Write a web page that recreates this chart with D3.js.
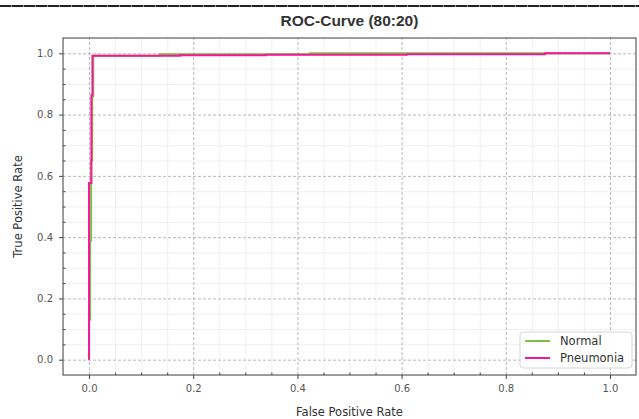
<!DOCTYPE html>
<html>
<head>
<meta charset="utf-8">
<script src="https://cdn.jsdelivr.net/npm/d3@7"></script>
<style>
body{margin:0;background:#fff;}
svg{display:block;font-family:"DejaVu Sans",sans-serif;}
</style>
</head>
<body>
<div id="chart"></div>
<script>
// ROC points
var normalFpr = [0, 0, 0.002, 0.002, 0.004, 0.004, 0.006, 0.006, 0.008, 0.008, 0.136, 0.136, 0.424, 0.424, 1.0];
var normalTpr = [0, 0.13, 0.13, 0.39, 0.39, 0.65, 0.65, 0.86, 0.86, 0.992, 0.992, 0.997, 0.997, 1.0, 1.0];

var pneuFpr = [0, 0, 0.0045, 0.0045, 0.0065, 0.0065, 0.175, 0.175, 0.34, 0.34, 0.61, 0.61, 0.875, 0.875, 1.0];
var pneuTpr = [0, 0.577, 0.577, 0.863, 0.863, 0.992, 0.992, 0.994, 0.994, 0.9955, 0.9955, 0.997, 0.997, 1.0, 1.0];

var seriesNames = ["Normal", "Pneumonia"];
var seriesColors = ["#7cc142", "#f5179b"];
var majorTicks = [0, 0.2, 0.4, 0.6, 0.8, 1.0];
var minorTicks = [-0.05, 0.05, 0.1, 0.15, 0.25, 0.3, 0.35, 0.45, 0.5, 0.55, 0.65, 0.7, 0.75, 0.85, 0.9, 0.95, 1.05];

var W = 639, H = 419;
var L = 63, R = 636, T = 38, B = 375;

var svg = d3.select("#chart").append("svg").attr("width", W).attr("height", H);

// notebook separator line at top
svg.append("line").attr("x1", 0).attr("x2", W).attr("y1", 6).attr("y2", 6)
	.attr("stroke", "#999").attr("stroke-width", 2);
svg.append("line").attr("x1", 0).attr("x2", W).attr("y1", 6).attr("y2", 6)
	.attr("stroke", "#222").attr("stroke-width", 2).attr("stroke-dasharray", "11,1");

var x = d3.scaleLinear().domain([-0.05, 1.05]).range([L, R]);
var y = d3.scaleLinear().domain([-0.05, 1.05]).range([B, T]);

var fmt = d3.format(".1f");

//minor grid
svg.append("g").attr("transform", "translate(0," + B + ")")
	.call(d3.axisBottom(x).tickValues(minorTicks).tickSize(-(B - T)).tickFormat(""))
	.call(function(g){ g.select(".domain").remove(); g.selectAll("line").attr("stroke", "#ebebeb").attr("stroke-width", 0.8); });
svg.append("g").attr("transform", "translate(" + L + ",0)")
	.call(d3.axisLeft(y).tickValues(minorTicks).tickSize(-(R - L)).tickFormat(""))
	.call(function(g){ g.select(".domain").remove(); g.selectAll("line").attr("stroke", "#ebebeb").attr("stroke-width", 0.8); });

//major grid
svg.append("g").attr("transform", "translate(0," + B + ")")
	.call(d3.axisBottom(x).tickValues(majorTicks).tickSize(-(B - T)).tickFormat(""))
	.call(function(g){ g.select(".domain").remove(); g.selectAll("line").attr("stroke", "#b0b0b0").attr("stroke-width", 0.9).attr("stroke-dasharray", "3,2"); });
svg.append("g").attr("transform", "translate(" + L + ",0)")
	.call(d3.axisLeft(y).tickValues(majorTicks).tickSize(-(R - L)).tickFormat(""))
	.call(function(g){ g.select(".domain").remove(); g.selectAll("line").attr("stroke", "#b0b0b0").attr("stroke-width", 0.9).attr("stroke-dasharray", "3,2"); });

//curves
var line = d3.line().x(function(d){ return x(d[0]); }).y(function(d){ return y(d[1]); });
var allFpr = [normalFpr, pneuFpr];
var allTpr = [normalTpr, pneuTpr];
for(i=0; i<2; i++){
	var pts = d3.zip(allFpr[i], allTpr[i]);
	svg.append("path").datum(pts)
		.attr("d", line)
		.attr("fill", "none")
		.attr("stroke", seriesColors[i])
		.attr("stroke-width", 2)
		.attr("stroke-linejoin", "miter");
}

//frame
svg.append("rect").attr("x", L).attr("y", T).attr("width", R - L).attr("height", B - T)
	.attr("fill", "none").attr("stroke", "#444").attr("stroke-width", 1);

//axes ticks + labels
var xAxis = svg.append("g").attr("transform", "translate(0," + B + ")")
	.call(d3.axisBottom(x).tickValues(majorTicks).tickSize(4).tickPadding(6).tickFormat(fmt));
var xMinor = svg.append("g").attr("transform", "translate(0," + B + ")")
	.call(d3.axisBottom(x).tickValues(minorTicks.slice(1, -1)).tickSize(-2.5).tickFormat(""));
var yAxis = svg.append("g").attr("transform", "translate(" + L + ",0)")
	.call(d3.axisLeft(y).tickValues(majorTicks).tickSize(4).tickPadding(6).tickFormat(fmt));
var yMinor = svg.append("g").attr("transform", "translate(" + L + ",0)")
	.call(d3.axisLeft(y).tickValues(minorTicks.slice(1, -1)).tickSize(-2.5).tickFormat(""));
[xAxis, xMinor, yAxis, yMinor].forEach(function(g){
	g.select(".domain").remove();
	g.selectAll("line").attr("stroke", "#444");
	g.selectAll("text").attr("fill", "#555").style("font-size", "10px").style("font-family", "DejaVu Sans");
});

//title
svg.append("text").attr("x", (L + R) / 2).attr("y", 26)
	.attr("text-anchor", "middle")
	.style("font-family", "Liberation Sans, Arial, sans-serif")
	.style("font-weight", "bold").style("font-size", "15.5px")
	.attr("fill", "#333").text("ROC-Curve (80:20)");

svg.append("text").attr("x", (L + R) / 2).attr("y", 416)
	.attr("text-anchor", "middle").style("font-size", "11.5px")
	.attr("fill", "#333").text("False Positive Rate");
svg.append("text").attr("transform", "translate(22," + ((T + B) / 2) + ") rotate(-90)")
	.attr("text-anchor", "middle").style("font-size", "11.5px")
	.attr("fill", "#333").text("True Positive Rate");

//legend
var lg = svg.append("g").attr("transform", "translate(520,332)");
lg.append("rect").attr("width", 112).attr("height", 36).attr("rx", 3)
	.attr("fill", "#fff").attr("fill-opacity", 0.9).attr("stroke", "#d5d5d5");
for(i=0; i<seriesNames.length; i++){
	lg.append("line").attr("x1", 5).attr("x2", 30).attr("y1", 9 + i * 17).attr("y2", 9 + i * 17)
		.attr("stroke", seriesColors[i]).attr("stroke-width", 2);
	lg.append("text").attr("x", 40).attr("y", 13 + i * 17)
		.style("font-size", "11.5px").attr("fill", "#333").text(seriesNames[i]);
}
</script>
</body>
</html>
